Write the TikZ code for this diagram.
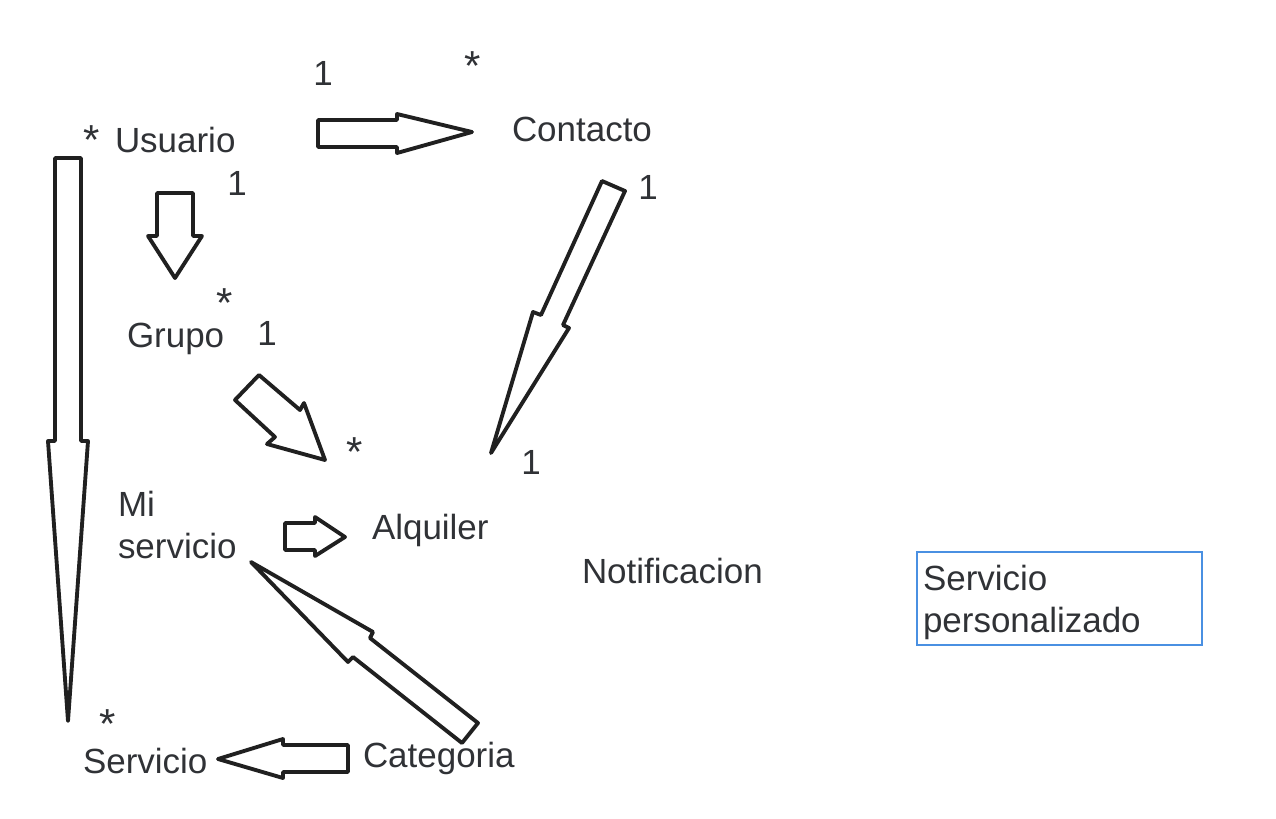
\documentclass[tikz,border=0pt]{standalone}
\usepackage{fontspec}
\setmainfont{Liberation Sans}
\definecolor{txtgray}{HTML}{303236}
\definecolor{boxblue}{HTML}{4A90E2}
\definecolor{penblack}{HTML}{202020}
\begin{document}
\begin{tikzpicture}[x=0.02cm,y=-0.02cm,
                       class node/.style={inner sep=0pt,outer sep=0pt,text=txtgray,font=\fontsize{19.9}{23.8}\selectfont},
                       mult node/.style={class node},
                       star node/.style={class node,scale=1.2},
                       block arrow/.style={draw=penblack,line width=2.2pt,line join=round}
                      ]
  \useasboundingbox (0,0) rectangle (1276,819);

  % classes
  \node[class node,anchor=base west] (usuario) at (115,152) {Usuario};
  \node[class node,anchor=base west] (contacto) at (512,141) {Contacto};
  \node[class node,anchor=base west] (grupo) at (127,347) {Grupo};
  \node[class node,anchor=base west,align=left] (miservicio) at (118,558) {Mi\\servicio};
  \node[class node,anchor=base west] (alquiler) at (372,539) {Alquiler};
  \node[class node,anchor=base west] (notificacion) at (582,583) {Notificacion};
  \node[class node,anchor=base west] (servicio) at (83,773) {Servicio};
  \node[class node,anchor=base west] (categoria) at (363,767) {Categoria};
  \node[draw=boxblue,line width=1.1pt,minimum width=5.7cm,minimum height=1.86cm,inner sep=0pt] (persobox) at (1059.5,598.5) {};
  \node[class node,anchor=base west,align=left] (personalizado) at (923,632) {Servicio\\personalizado};

  % multiplicities
  \node[star node] (usuario-m) at (92,140) {*};
  \node[mult node] (contacto-1) at (323,73) {1};
  \node[star node] (contacto-m) at (473,66) {*};
  \node[mult node] (grupo-1) at (237,183) {1};
  \node[mult node] (alquiler-1a) at (648,187) {1};
  \node[star node] (grupo-m) at (225,303) {*};
  \node[mult node] (alquiler-1b) at (267,333) {1};
  \node[star node] (alquiler-m) at (355,452) {*};
  \node[mult node] (alquiler-1c) at (531,462) {1};
  \node[star node] (servicio-m) at (108,724) {*};

  % block arrows
  \draw[block arrow] (318,120) -- (397,120) -- (397,114) -- (472,132) -- (397,153) -- (397,147) -- (318,147) -- cycle;
  \draw[block arrow] (157,193) -- (193,193) -- (193,236) -- (202,236) -- (175,278) -- (148,236) -- (157,236) -- cycle;
  \draw[block arrow] (55,158) -- (81,158) -- (81,441) -- (88,441) -- (68,721) -- (48,441) -- (55,441) -- cycle;
  \draw[block arrow] (235,400) -- (259,375) -- (300,410) -- (304,403) -- (325,460) -- (267,444) -- (275,437) -- cycle;
  \draw[block arrow] (602,181) -- (625,191) -- (563,325) -- (569,328) -- (491,453) -- (533,312) -- (541,315) -- cycle;
  \draw[block arrow] (285,523) -- (315,523) -- (315,517) -- (345,537) -- (315,556) -- (315,550) -- (285,550) -- cycle;
  \draw[block arrow] (251,562) -- (373,632) -- (370,638) -- (478,723) -- (462,743) -- (353,657) -- (348,662) -- cycle;
  \draw[block arrow] (348,745) -- (348,772) -- (283,772) -- (283,778) -- (218,759) -- (283,739) -- (283,745) -- cycle;
 \end{tikzpicture}
\end{document}
